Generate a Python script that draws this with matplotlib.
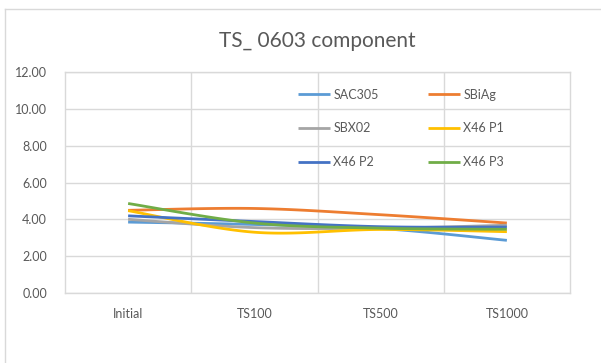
import numpy as np
import matplotlib
matplotlib.use("Agg")
import matplotlib.pyplot as plt
from matplotlib.lines import Line2D

plt.rcParams['font.family'] = ['Lato', 'DejaVu Sans']

categories = ["Initial", "TS100", "TS500", "TS1000"]
series_names = ["SAC305", "SBiAg", "SBX02", "X46 P1", "X46 P2", "X46 P3"]
sac305 = [3.85, 3.72, 3.50, 2.86]
sbiag = [4.49, 4.59, 4.25, 3.80]
sbx02 = [4.00, 3.55, 3.52, 3.68]
x46_p1 = [4.47, 3.30, 3.45, 3.33]
x46_p2 = [4.19, 3.88, 3.60, 3.58]
x46_p3 = [4.86, 3.80, 3.52, 3.46]
y_ticks = [0, 2, 4, 6, 8, 10, 12]
colors = ["#5B9BD5", "#ED7D31", "#A5A5A5", "#FFC000", "#4472C4", "#70AD47"]


def smooth(xs, ys, n=40):
    """Catmull-Rom style Bezier smoothing through the given points."""
    pts = np.column_stack([xs, ys]).astype(float)
    ext = np.vstack([pts[0], pts, pts[-1]])
    out = []
    t = np.linspace(0, 1, n)[:, None]
    for i in range(len(pts) - 1):
        p0, p1, p2, p3 = ext[i], ext[i + 1], ext[i + 2], ext[i + 3]
        c1 = p1 + (p2 - p0) / 6.0
        c2 = p2 - (p3 - p1) / 6.0
        seg = ((1 - t) ** 3) * p1 + 3 * ((1 - t) ** 2) * t * c1 \
            + 3 * (1 - t) * t ** 2 * c2 + t ** 3 * p2
        out.append(seg if i == 0 else seg[1:])
    arr = np.vstack(out)
    return arr[:, 0], arr[:, 1]


fig = plt.figure(figsize=(6.01, 3.63), dpi=100)
ax = fig.add_axes([65 / 601, 70 / 363, 505 / 601, 221 / 363])

x = np.arange(len(categories))
all_series = [sac305, sbiag, sbx02, x46_p1, x46_p2, x46_p3]
handles = []
for name, vals, col in zip(series_names, all_series, colors):
    sx, sy = smooth(x, vals)
    h, = ax.plot(sx, sy, color=col, lw=2.0, label=name, solid_capstyle='butt')
    handles.append(h)

ax.set_xlim(-0.5, len(categories) - 0.5)
ax.set_ylim(0, 12)
ax.set_yticks(y_ticks)
ax.set_yticklabels([f"{v:.2f}" for v in y_ticks])
ax.set_xticks(x)
ax.set_xticklabels(categories)
ax.tick_params(axis='both', length=0, labelsize=9, colors="#595959")
ax.tick_params(axis='y', pad=13)
ax.tick_params(axis='x', pad=11)

ax.grid(axis='y', color="#D9D9D9", lw=1)
for b in np.arange(0.5, len(categories) - 0.5):
    ax.axvline(b, color="#D9D9D9", lw=1, zorder=0)
ax.set_axisbelow(True)
for side, sp in ax.spines.items():
    sp.set_color("#D9D9D9")
    sp.set_linewidth(1)

ax.set_title("TS_ 0603 component", fontsize=15, color="#595959", pad=18)

# legend entries run across rows, two per row
order = [0, 2, 4, 1, 3, 5]
leg = ax.legend([handles[i] for i in order], [series_names[i] for i in order],
                ncol=2, loc='upper left', bbox_to_anchor=(0.461, 0.925),
                frameon=False, fontsize=9, handlelength=2.6, handletextpad=0.25,
                columnspacing=3.9, labelspacing=1.75, borderpad=0, borderaxespad=0)
for t in leg.get_texts():
    t.set_color("#595959")

# chart area border on the top and left
fig.add_artist(Line2D([5 / 601, 5 / 601], [0, 1 - 9 / 363], transform=fig.transFigure,
                      color="#D9D9D9", lw=1))
fig.add_artist(Line2D([5 / 601, 1], [1 - 9 / 363, 1 - 9 / 363], transform=fig.transFigure,
                      color="#D9D9D9", lw=1))

fig.savefig("out.png", dpi=100)
